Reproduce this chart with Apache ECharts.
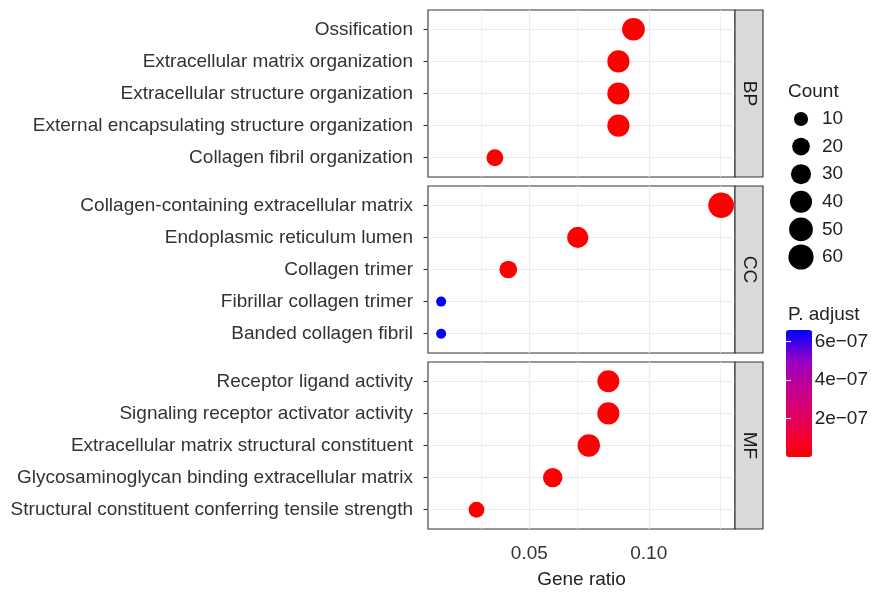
<!DOCTYPE html>
<html><head><meta charset="utf-8">
<script src="https://cdn.jsdelivr.net/npm/echarts@6/dist/echarts.min.js"></script>
<style>html,body{margin:0;padding:0;background:#fff}#c{width:871px;height:592px}</style>
</head><body><div id="c"></div>
<script>
// ---- data ----
const facets = ['BP', 'CC', 'MF'];
const bpTerms = ['Ossification', 'Extracellular matrix organization', 'Extracellular structure organization', 'External encapsulating structure organization', 'Collagen fibril organization'];
const bpRatio = [0.0936, 0.0873, 0.0873, 0.0873, 0.0356];
const bpCount = [44, 41, 41, 41, 17];
const bpPadj = [2e-12, 3e-12, 3e-12, 5e-12, 1e-11];
const ccTerms = ['Collagen-containing extracellular matrix', 'Endoplasmic reticulum lumen', 'Collagen trimer', 'Fibrillar collagen trimer', 'Banded collagen fibril'];
const ccRatio = [0.1303, 0.0703, 0.0412, 0.0131, 0.0131];
const ccCount = [64, 35, 20, 6, 6];
const ccPadj = [1e-20, 5e-12, 1e-11, 6.6e-07, 6.55e-07];
const mfTerms = ['Receptor ligand activity', 'Signaling receptor activator activity', 'Extracellular matrix structural constituent', 'Glycosaminoglycan binding extracellular matrix', 'Structural constituent conferring tensile strength'];
const mfRatio = [0.0831, 0.0831, 0.0749, 0.0598, 0.0279];
const mfCount = [40, 40, 42, 27, 14];
const mfPadj = [1e-12, 1e-12, 1e-15, 1e-11, 2e-11];
const xTicks = [0.05, 0.10];
const xMinor = [0.025, 0.075, 0.125];
const countBreaks = [10, 20, 30, 40, 50, 60];
const padjBreaks = [2e-7, 4e-7, 6e-7];

// ---- style / layout ----
const FONT = "'Liberation Sans', Arial, Helvetica, sans-serif";
const FS = 19;
const xMin = 0.0076, xMax = 0.1361;
const panelLeft = 428, panelW = 307, panelH = 167, panelTops = [10, 186, 362];
const stripW = 28;
const dMin = 10, dMax = 25.7;
const terms = [bpTerms, ccTerms, mfTerms];
const ratios = [bpRatio, ccRatio, mfRatio];
const counts = [bpCount, ccCount, mfCount];
const padjs = [bpPadj, ccPadj, mfPadj];
const allCounts = [].concat(bpCount, ccCount, mfCount);
const cMin = Math.min(...allCounts), cMax = Math.max(...allCounts);
const padjMax = Math.max(...[].concat(bpPadj, ccPadj, mfPadj));
function sizeOf(c) {
  const t = Math.max(0, (c - cMin) / (cMax - cMin));
  return dMin + (dMax - dMin) * Math.sqrt(t);
}
function fmtExp(v) {
  const parts = v.toExponential(0).split('e');
  const e = parseInt(parts[1], 10);
  return parts[0] + 'e' + (e < 0 ? '\u2212' : '+') + String(Math.abs(e)).padStart(2, '0');
}
const rowIdx = [0, 1, 2, 3, 4];

const grid = [], xAxis = [], yAxis = [], series = [], graphic = [];
facets.forEach((f, i) => {
  const last = i === facets.length - 1;
  grid.push({left: panelLeft, top: panelTops[i], width: panelW, height: panelH,
    show: true, borderColor: '#333', borderWidth: 1.1, backgroundColor: '#fff'});
  xAxis.push({type: 'value', gridIndex: i, min: xMin, max: xMax,
    splitLine: {show: false}, axisLine: {show: false},
    axisTick: {show: last, customValues: xTicks, length: 4.5, lineStyle: {color: '#333', width: 1.1}},
    axisLabel: {show: last, customValues: xTicks, formatter: v => v.toFixed(2), margin: 15,
      fontSize: FS, fontFamily: FONT, color: '#333'},
    name: last ? 'Gene ratio' : '', nameLocation: 'middle', nameGap: 41,
    nameTextStyle: {fontSize: FS, fontFamily: FONT, color: '#222'}});
  yAxis.push({type: 'value', gridIndex: i, inverse: true, min: -0.6, max: 4.6,
    splitLine: {show: false}, axisLine: {show: false},
    axisTick: {show: true, customValues: rowIdx, length: 4.5, lineStyle: {color: '#333', width: 1.1}},
    axisLabel: {customValues: rowIdx, formatter: v => terms[i][Math.round(v)] || '', margin: 15,
      fontSize: FS, fontFamily: FONT, color: '#333'}});
  // gridlines
  series.push({type: 'scatter', xAxisIndex: i, yAxisIndex: i, data: [], z: 1, silent: true,
    markLine: {silent: true, z: 1, symbol: ['none', 'none'], label: {show: false}, animation: false,
      lineStyle: {color: '#EBEBEB', width: 1.2, type: 'solid'},
      emphasis: {disabled: true},
      data: [].concat(xTicks.map(v => ({xAxis: v})), xMinor.map(v => ({xAxis: v, lineStyle: {width: 0.8, color: '#EEEEEE', type: 'solid'}})), rowIdx.map(r => ({yAxis: r})))}});
  series.push({type: 'scatter', name: f, xAxisIndex: i, yAxisIndex: i, z: 3,
    data: terms[i].map((t, k) => [ratios[i][k], k, counts[i][k], padjs[i][k]]),
    symbolSize: d => sizeOf(d[2]), itemStyle: {opacity: 1}});
  // strip
  graphic.push({type: 'rect', shape: {x: panelLeft + panelW, y: panelTops[i], width: stripW, height: panelH},
    style: {fill: '#D9D9D9', stroke: '#333', lineWidth: 1.1}, z: 5});
  graphic.push({type: 'text', x: panelLeft + panelW + stripW / 2, y: panelTops[i] + panelH / 2,
    rotation: -Math.PI / 2, z: 6,
    style: {text: f, fill: '#1a1a1a', font: FS + 'px ' + FONT, align: 'center', verticalAlign: 'middle'}});
});
const dataSeriesIdx = [1, 3, 5];

// size legend grid (index 3)
grid.push({left: 790, top: 105.2, width: 22, height: 165.6});
xAxis.push({type: 'value', gridIndex: 3, min: -1, max: 1, show: false});
yAxis.push({type: 'category', gridIndex: 3, inverse: true, data: countBreaks.map(String), position: 'right',
  axisLine: {show: false}, axisTick: {show: false}, splitLine: {show: false},
  axisLabel: {margin: 10, fontSize: FS, fontFamily: FONT, color: '#222'}});
series.push({type: 'scatter', xAxisIndex: 3, yAxisIndex: 3, silent: true, z: 3,
  data: countBreaks.map((c, k) => [0, k, c]), symbolSize: d => sizeOf(d[2]),
  itemStyle: {color: '#000', opacity: 1}});

// colorbar tick overlay grid (index 4)
const cbLeft = 786, cbTop = 330, cbW = 26, cbH = 127;
grid.push({left: cbLeft, top: cbTop, width: cbW, height: cbH});
xAxis.push({type: 'value', gridIndex: 4, min: 0, max: 1, show: false});
yAxis.push({type: 'value', gridIndex: 4, min: 0, max: padjMax, position: 'right', z: 10,
  splitLine: {show: false}, axisLine: {show: false},
  axisTick: {show: true, inside: true, length: 5, customValues: padjBreaks, lineStyle: {color: '#fff', width: 1.1}},
  axisLabel: {customValues: padjBreaks, formatter: fmtExp, margin: 8, fontSize: FS, fontFamily: FONT, color: '#222'}});
yAxis.push({type: 'value', gridIndex: 4, min: 0, max: padjMax, position: 'left', z: 10,
  splitLine: {show: false}, axisLine: {show: false},
  axisTick: {show: true, inside: true, length: 5, customValues: padjBreaks, lineStyle: {color: '#fff', width: 1.1}},
  axisLabel: {show: false}});

graphic.push({type: 'text', x: 788, y: 92, style: {text: 'Count', fill: '#222', font: FS + 'px ' + FONT, verticalAlign: 'middle'}});
graphic.push({type: 'text', x: 788, y: 315, style: {text: 'P. adjust', fill: '#222', font: FS + 'px ' + FONT, verticalAlign: 'middle'}});

const chart = echarts.init(document.getElementById('c'), null, {renderer: 'canvas'});
chart.setOption({
  animation: false,
  backgroundColor: '#fff',
  grid, xAxis, yAxis, series, graphic,
  visualMap: {type: 'continuous', min: 0, max: padjMax, dimension: 3, seriesIndex: dataSeriesIdx,
    left: cbLeft, top: cbTop, itemWidth: cbW, itemHeight: cbH, padding: 0, calculable: false,
    hoverLink: false, text: null, showLabel: false,
    inRange: {color: ['#FF0000', '#E8004F', '#CA0089', '#9A00C3', '#0000FF']}}
});
</script></body></html>
